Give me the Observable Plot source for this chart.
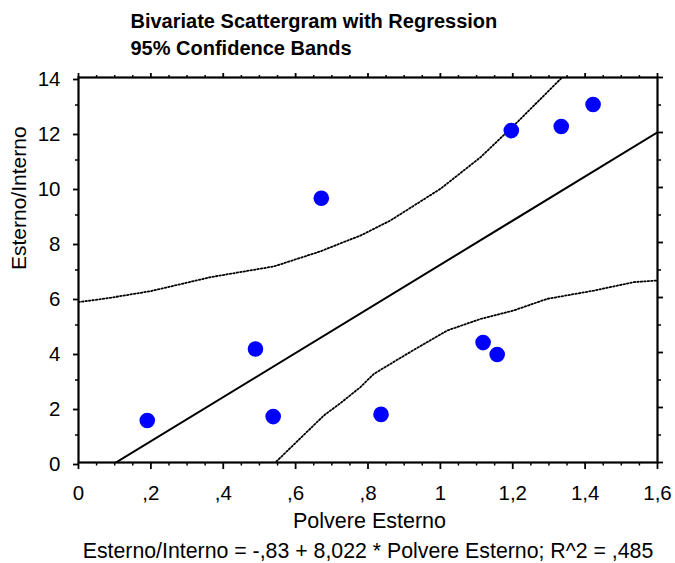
<!DOCTYPE html>
<html>
<head>
<meta charset="utf-8">
<script src="https://cdn.jsdelivr.net/npm/d3@7"></script>
<script src="https://cdn.jsdelivr.net/npm/@observablehq/plot@0.6"></script>
<style>
  html, body { margin: 0; padding: 0; background: #fff; }
  #chart svg { display: block; }
</style>
</head>
<body>
<div id="chart"></div>
<script>
// ---- data ----
const titleLines = ["Bivariate Scattergram with Regression", "95% Confidence Bands"];
const xTitle = "Polvere Esterno";
const yTitle = "Esterno/Interno";
const caption = "Esterno/Interno = -,83 + 8,022 * Polvere Esterno; R^2 = ,485";

const polvereEsterno = [0.190, 0.489, 0.538, 0.671, 0.836, 1.118, 1.157, 1.196, 1.334, 1.422];
const esternoInterno = [1.53, 4.13, 1.67, 9.61, 1.75, 4.36, 3.93, 12.07, 12.22, 13.02];

const regIntercept = -0.83;
const regSlope = 8.022;

const upperBandX = [0.00, 0.088, 0.199, 0.365, 0.540, 0.669, 0.724, 0.779, 0.862, 1.000, 1.111, 1.212, 1.340];
const upperBandY = [5.83, 5.99, 6.23, 6.74, 7.13, 7.68, 7.97, 8.25, 8.80, 9.95, 11.10, 12.37, 14.05];
const lowerBandX = [0.540, 0.678, 0.724, 0.779, 0.816, 0.908, 1.019, 1.111, 1.203, 1.295, 1.424, 1.535, 1.600];
const lowerBandY = [-0.05, 1.71, 2.16, 2.74, 3.22, 3.95, 4.80, 5.22, 5.53, 5.95, 6.25, 6.56, 6.62];

const xMajorTicks = [0, 0.2, 0.4, 0.6, 0.8, 1, 1.2, 1.4, 1.6];
const xTickLabels = ["0", ",2", ",4", ",6", ",8", "1", "1,2", "1,4", "1,6"];
const xMinorTicks = [0.05,0.1,0.15,0.25,0.3,0.35,0.45,0.5,0.55,0.65,0.7,0.75,0.85,0.9,0.95,1.05,1.1,1.15,1.25,1.3,1.35,1.45,1.5,1.55];
const yMajorTicks = [0, 2, 4, 6, 8, 10, 12, 14];
const yTickLabels = ["0", "2", "4", "6", "8", "10", "12", "14"];
const yMinorTicks = [1, 3, 5, 7, 9, 11, 13];

// ---- tables built from the arrays ----
const points = polvereEsterno.map((x, i) => ({x, y: esternoInterno[i]}));
const upper = upperBandX.map((x, i) => ({x, y: upperBandY[i]}));
const lower = lowerBandX.map((x, i) => ({x, y: lowerBandY[i]}));
const regLine = [0, 1.6].map(x => ({x, y: regIntercept + regSlope * x}));
const xLabelMap = new Map(xMajorTicks.map((v, i) => [v, xTickLabels[i]]));
const yLabelMap = new Map(yMajorTicks.map((v, i) => [v, yTickLabels[i]]));

const font = "Liberation Sans, Arial, Helvetica, sans-serif";

const chart = Plot.plot({
  width: 675,
  height: 563,
  marginLeft: 78,
  marginRight: 18,
  marginTop: 77,
  marginBottom: 101,
  style: {fontFamily: font, fontSize: "20px", color: "#000", background: "#fff"},
  x: {domain: [0, 1.6]},
  y: {domain: [0, 14]},
  marks: [
    // axes (all ticks outward)
    Plot.axisX({anchor: "bottom", ticks: xMajorTicks, tickSize: 7, tickPadding: 16, strokeWidth: 1.8,
      tickFormat: d => xLabelMap.get(d), label: null, fontSize: 20.5}),
    Plot.axisX({anchor: "bottom", ticks: xMinorTicks, tickSize: 3.5, strokeWidth: 1.5, fill: "none", label: null}),
    Plot.axisX({anchor: "top", ticks: xMajorTicks, tickSize: 5, strokeWidth: 1.8, fill: "none", label: null}),
    Plot.axisX({anchor: "top", ticks: xMinorTicks, tickSize: 3, strokeWidth: 1.5, fill: "none", label: null}),
    Plot.axisY({anchor: "left", ticks: yMajorTicks, tickSize: 5, tickPadding: 13, strokeWidth: 1.8,
      tickFormat: d => yLabelMap.get(d), label: null, fontSize: 20.5, dy: 2}),
    Plot.axisY({anchor: "left", ticks: yMinorTicks, tickSize: 3, strokeWidth: 1.5, fill: "none", label: null}),
    Plot.axisY({anchor: "right", ticks: yMajorTicks, tickSize: 5, strokeWidth: 1.8, fill: "none", label: null}),
    Plot.axisY({anchor: "right", ticks: yMinorTicks, tickSize: 3, strokeWidth: 1.5, fill: "none", label: null}),
    // confidence bands (dotted)
    Plot.line(upper, {x: "x", y: "y", stroke: "#000", strokeWidth: 1.8, strokeDasharray: "1.5,2", clip: true}),
    Plot.line(lower, {x: "x", y: "y", stroke: "#000", strokeWidth: 1.8, strokeDasharray: "1.5,2", clip: true}),
    // regression line
    Plot.line(regLine, {x: "x", y: "y", stroke: "#000", strokeWidth: 2, clip: true}),
    // points
    Plot.dot(points, {x: "x", y: "y", r: 7.8, fill: "#0000ff", stroke: "none"}),
    // frame
    Plot.frame({stroke: "#000", strokeWidth: 2.2}),
    // titles
    Plot.text([titleLines[0]], {frameAnchor: "top-left", textAnchor: "start", lineAnchor: "top", dx: 52, dy: -64,
      fontWeight: "bold", fontSize: 20, fill: "#000"}),
    Plot.text([titleLines[1]], {frameAnchor: "top-left", textAnchor: "start", lineAnchor: "top", dx: 52, dy: -37,
      fontWeight: "bold", fontSize: 20, fill: "#000"}),
    Plot.text([xTitle], {frameAnchor: "bottom", lineAnchor: "top", dx: 1.5, dy: 50, fontSize: 21.5, fill: "#000"}),
    Plot.text([caption], {frameAnchor: "bottom", lineAnchor: "top", dx: 0, dy: 80, fontSize: 21.3, fill: "#000"}),
    Plot.text([yTitle], {frameAnchor: "left", dx: -59, rotate: -90, fontSize: 21, fill: "#000"})
  ]
});
document.getElementById("chart").appendChild(chart);
</script>
</body>
</html>
